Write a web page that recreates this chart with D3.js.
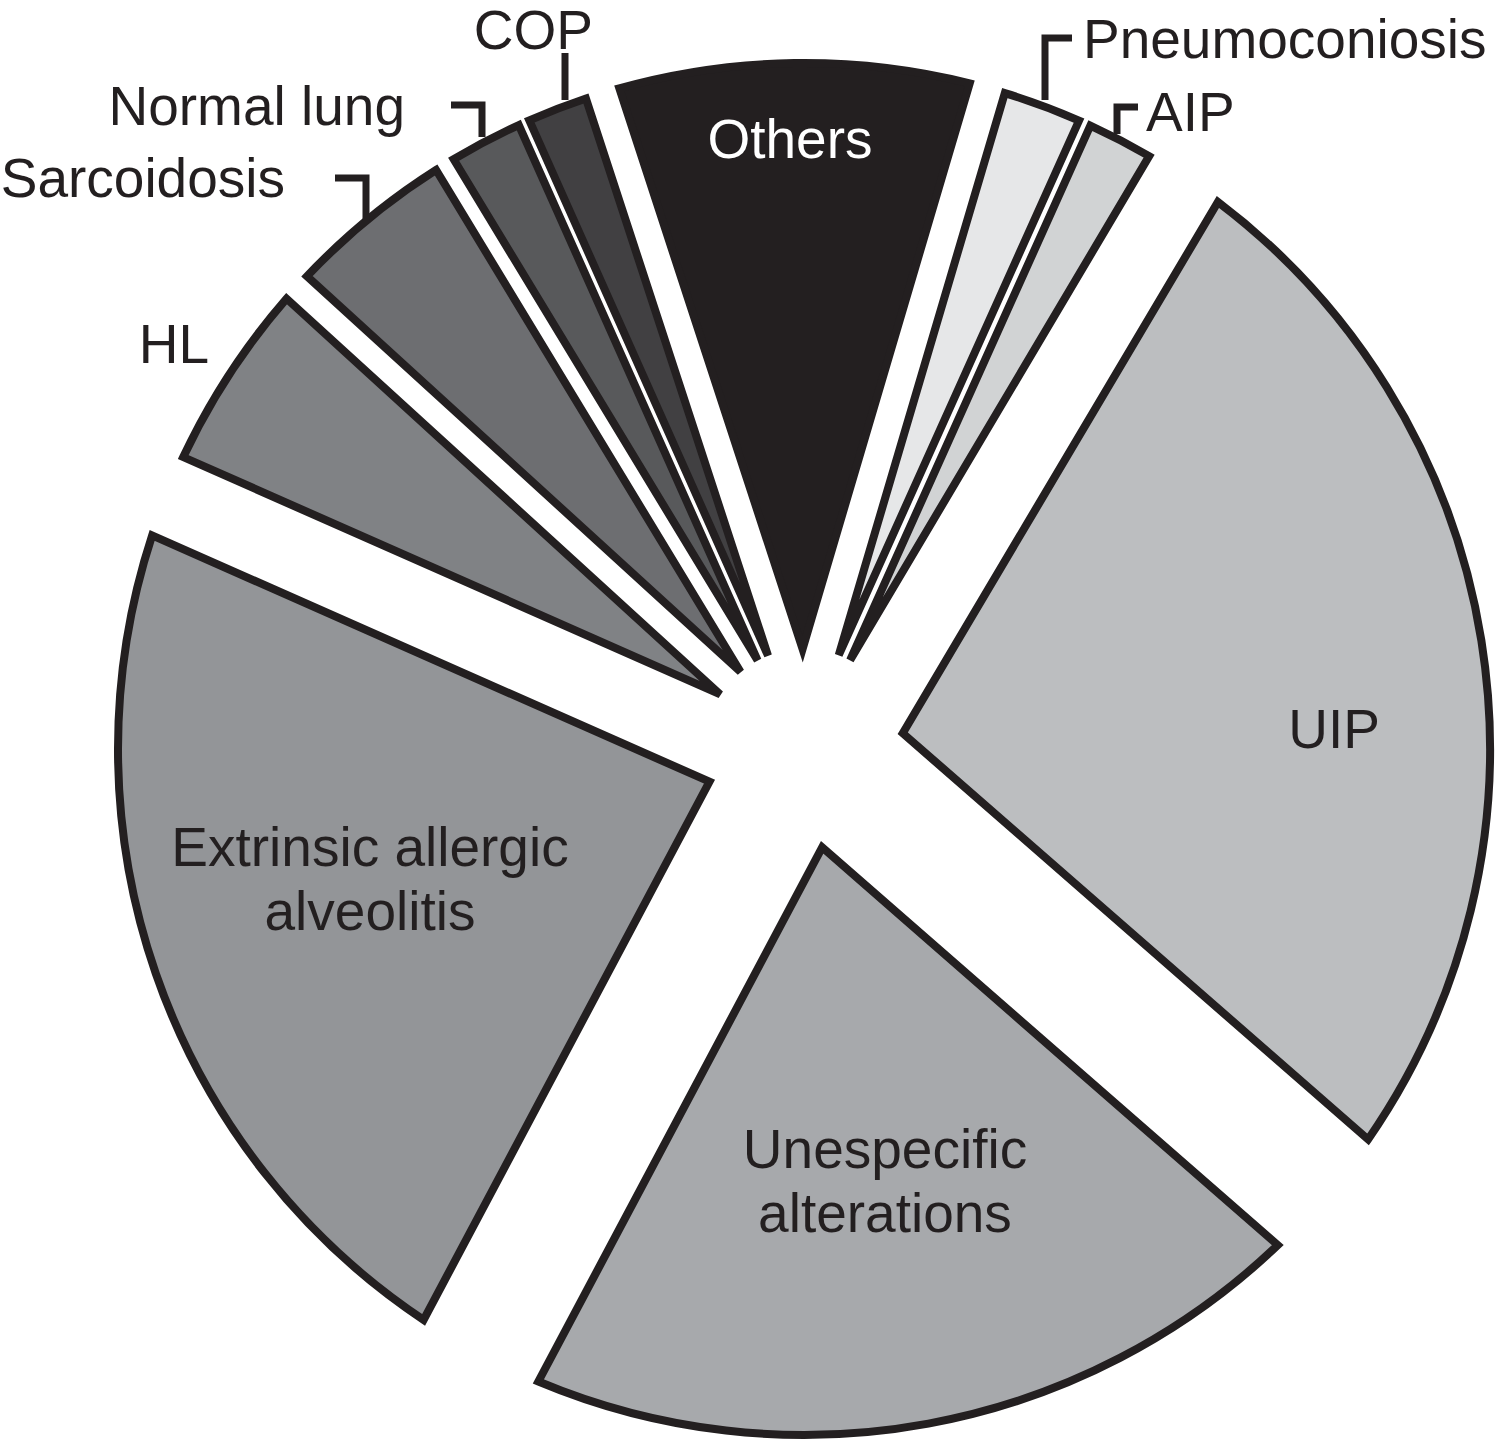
<!DOCTYPE html>
<html>
<head>
<meta charset="utf-8">
<script src="https://cdn.jsdelivr.net/npm/d3@7"></script>
<style>
  html, body { margin: 0; padding: 0; background: #ffffff; }
  svg { display: block; }
</style>
</head>
<body>
<script>
// ---------- data ----------
const categories = ["Others", "Pneumoconiosis", "AIP", "UIP", "Unespecific alterations",
                    "Extrinsic allergic alveolitis", "HL", "Sarcoidosis", "Normal lung", "COP"];
const values = [9.6, 2.15, 1.8, 27.9, 21.35, 23.85, 5.15, 4.55, 2.0, 1.65];
const fills = ["#231f20", "#e6e7e8", "#d1d3d4", "#bcbec0", "#a7a9ac",
               "#939598", "#808285", "#6d6e71", "#58595b", "#414042"];

// ---------- layout ----------
const W = 1497, H = 1441;
const cx = 804, cy = 749;
const R = 686;          // outer arc radius (concentric with pie centre)
const explode = 100;    // apex offset along bisector
const startDeg = -18.1;

const color = d3.scaleOrdinal().domain(categories).range(fills);

const svg = d3.select("body").append("svg")
  .attr("width", W).attr("height", H)
  .attr("viewBox", `0 0 ${W} ${H}`);

svg.append("rect").attr("width", W).attr("height", H).attr("fill", "#ffffff");

const pie = d3.pie().sort(null).value(d => d.value)
  .startAngle(startDeg * Math.PI / 180)
  .endAngle(startDeg * Math.PI / 180 + 2 * Math.PI);

const arcs = pie(categories.map((c, i) => ({ name: c, value: values[i] })));

function hit(ax, ay, theta) {
  const ux = Math.sin(theta), uy = -Math.cos(theta);
  const b = ax * ux + ay * uy;
  const c = ax * ax + ay * ay - R * R;
  const t = -b + Math.sqrt(b * b - c);
  return [ax + t * ux, ay + t * uy];
}

function slicePath(d) {
  const mid = (d.startAngle + d.endAngle) / 2;
  const ax = explode * Math.sin(mid), ay = -explode * Math.cos(mid);
  const p0 = hit(ax, ay, d.startAngle);
  const p1 = hit(ax, ay, d.endAngle);
  const p = d3.path();
  p.moveTo(ax, ay);
  p.lineTo(p0[0], p0[1]);
  p.arc(0, 0, R, Math.atan2(p0[1], p0[0]), Math.atan2(p1[1], p1[0]), false);
  p.closePath();
  return p.toString();
}

const g = svg.append("g").attr("transform", `translate(${cx},${cy})`);
g.selectAll("path.slice").data(arcs).join("path")
  .attr("class", "slice")
  .attr("d", slicePath)
  .attr("fill", d => color(d.data.name))
  .attr("stroke", "#231f20")
  .attr("stroke-width", 8)
  .attr("stroke-linejoin", "miter");

// ---------- labels ----------
const font = "'Liberation Sans', Arial, Helvetica, sans-serif";
const labels = [
  { lines: ["Others"], x: 790, y: 158, anchor: "middle", fill: "#ffffff" },
  { lines: ["Pneumoconiosis"], x: 1083, y: 58, anchor: "start" },
  { lines: ["AIP"], x: 1146, y: 131, anchor: "start" },
  { lines: ["UIP"], x: 1334, y: 748, anchor: "middle" },
  { lines: ["Unespecific", "alterations"], x: 885, y: 1168, anchor: "middle" },
  { lines: ["Extrinsic allergic", "alveolitis"], x: 370, y: 866, anchor: "middle" },
  { lines: ["HL"], x: 209, y: 363, anchor: "end" },
  { lines: ["Sarcoidosis"], x: 285, y: 197, anchor: "end" },
  { lines: ["Normal lung"], x: 405, y: 125, anchor: "end" },
  { lines: ["COP"], x: 593, y: 49, anchor: "end" }
];

labels.forEach(l => {
  const t = svg.append("text")
    .attr("x", l.x).attr("y", l.y)
    .attr("text-anchor", l.anchor)
    .attr("font-family", font)
    .attr("font-size", 55)
    .attr("fill", l.fill || "#231f20");
  l.lines.forEach((s, i) => {
    t.append("tspan").attr("x", l.x).attr("dy", i === 0 ? 0 : 64).text(s);
  });
});

// ---------- leader brackets ----------
const leaders = [
  [[1072, 38], [1045, 38], [1045, 100]],
  [[1138, 107], [1117, 107], [1117, 134]],
  [[451, 105], [482, 105], [482, 137]],
  [[565, 53], [565, 100]],
  [[335, 178], [366, 178], [366, 222]]
];
const line = d3.line();
svg.selectAll("path.leader").data(leaders).join("path")
  .attr("class", "leader")
  .attr("d", line)
  .attr("fill", "none")
  .attr("stroke", "#231f20")
  .attr("stroke-width", 7)
  .attr("stroke-linejoin", "miter")
  .attr("stroke-linecap", "butt");
</script>
</body>
</html>
